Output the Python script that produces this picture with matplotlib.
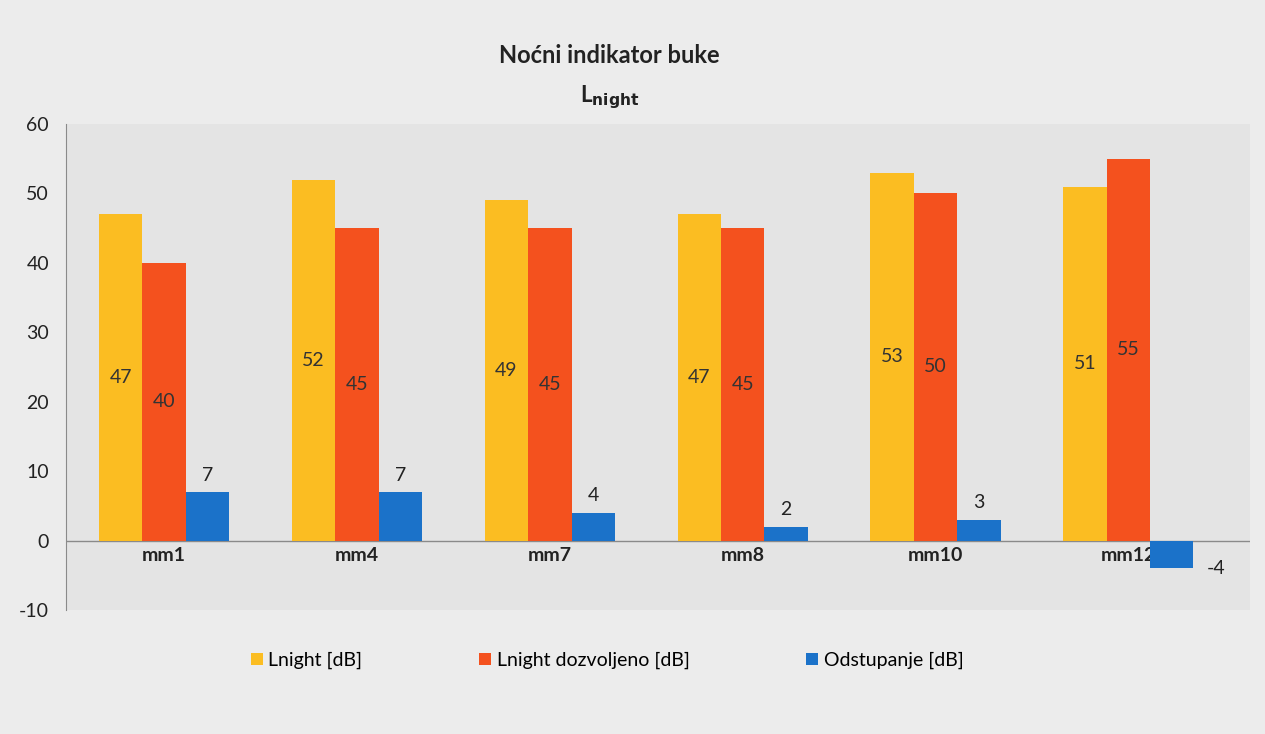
import numpy as np
import matplotlib.pyplot as plt

categories = ['mm1', 'mm4', 'mm7', 'mm8', 'mm10', 'mm12']
lnight = [47, 52, 49, 47, 53, 51]
lnight_allowed = [40, 45, 45, 45, 50, 55]
deviation = [7, 7, 4, 2, 3, -4]
series_names = ['Lnight [dB]', 'Lnight dozvoljeno [dB]', 'Odstupanje [dB]']

plt.rcParams['font.family'] = ['Lato', 'DejaVu Sans']
plt.rcParams['axes.unicode_minus'] = False

fig = plt.figure(figsize=(12.65, 7.34), dpi=100, facecolor='#ececec')
ax = fig.add_axes([0.052, 0.169, 0.936, 0.662])
ax.set_facecolor('#e4e4e4')

x = np.arange(len(categories))
w = 0.225
c_yel, c_red, c_blu = '#fbbd22', '#f4511e', '#1b72c9'
b1 = ax.bar(x - w, lnight, w, color=c_yel, label=series_names[0], zorder=2)
b2 = ax.bar(x, lnight_allowed, w, color=c_red, label=series_names[1], zorder=2)
b3 = ax.bar(x + w, deviation, w, color=c_blu, label=series_names[2], zorder=2)

# value labels
for xi, v in zip(x - w, lnight):
    ax.text(xi, v / 2, str(v), ha='center', va='center', fontsize=14, color='#333333', zorder=3)
for xi, v in zip(x, lnight_allowed):
    ax.text(xi, v / 2, str(v), ha='center', va='center', fontsize=14, color='#333333', zorder=3)
for xi, v in zip(x + w, deviation):
    if v >= 0:
        ax.text(xi, v + 1.2, str(v), ha='center', va='bottom', fontsize=14, color='#222222', zorder=3)
    else:
        ax.text(xi + w * 0.8, v / 2 - 2, str(v), ha='left', va='center', fontsize=14, color='#222222', zorder=3)

# category labels just under the zero line
for xi, c in zip(x, categories):
    ax.text(xi, -1.0, c, ha='center', va='top', fontsize=14, fontweight='bold', color='#222222', zorder=1)

ax.axhline(0, color='#8a8a8a', lw=1, zorder=1)
ax.set_ylim(-10, 60)
ax.set_yticks(range(-10, 61, 10))
ax.set_xlim(-0.51, 5.63)
ax.set_xticks([])
for s in ['top', 'right', 'bottom']:
    ax.spines[s].set_visible(False)
ax.spines['left'].set_color('#8a8a8a')
ax.tick_params(axis='y', length=0, labelsize=14, colors='#222222', pad=12)

fig.text(0.482, 0.925, 'Noćni indikator buke', ha='center', va='center', fontsize=17, fontweight='bold', color='#222222')
fig.text(0.482, 0.868, r'L$_{\mathbf{night}}$', ha='center', va='center', fontsize=16, fontweight='bold', color='#222222')

fig.legend(handles=[b1, b2, b3], labels=series_names, loc='center', bbox_to_anchor=(0.48, 0.1),
           ncol=3, frameon=False, fontsize=14, handlelength=0.6, handleheight=0.6,
           handletextpad=0.3, columnspacing=6)

fig.savefig('out.png', dpi=100, facecolor=fig.get_facecolor())
